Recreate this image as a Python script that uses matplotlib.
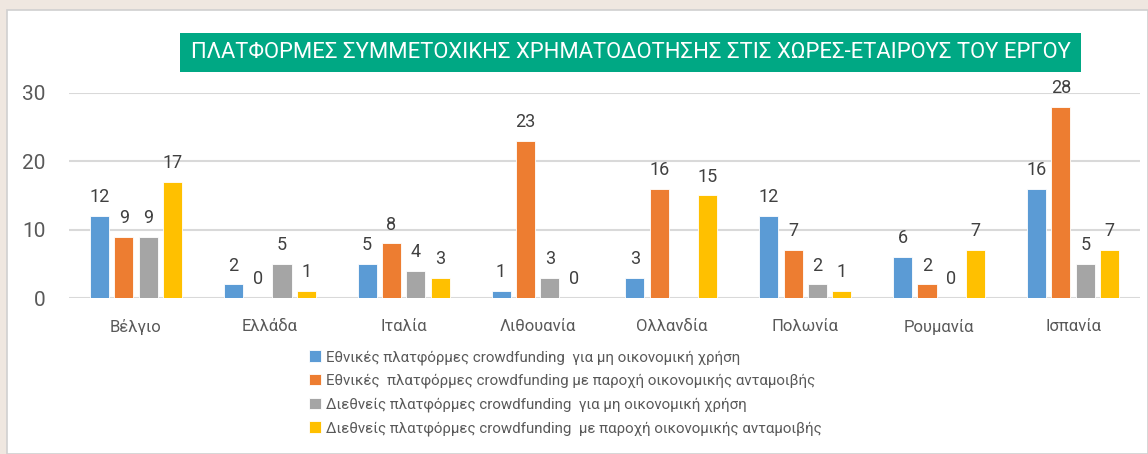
import numpy as np
import matplotlib
matplotlib.use("Agg")
import matplotlib.pyplot as plt
from matplotlib.patches import Rectangle

plt.rcParams['font.family'] = ['Roboto', 'DejaVu Sans']

countries = ["Βέλγιο", "Ελλάδα", "Ιταλία", "Λιθουανία", "Ολλανδία", "Πολωνία", "Ρουμανία", "Ισπανία"]
national_nonfin = [12, 2, 5, 1, 3, 12, 6, 16]
national_reward = [9, 0, 8, 23, 16, 7, 2, 28]
intl_nonfin = [9, 5, 4, 3, np.nan, 2, 0, 5]
intl_reward = [17, 1, 3, 0, 15, 1, 7, 7]
series_labels = [
    "Εθνικές πλατφόρμες crowdfunding  για μη οικονομική χρήση",
    "Εθνικές  πλατφόρμες crowdfunding με παροχή οικονομικής ανταμοιβής",
    "Διεθνείς πλατφόρμες crowdfunding  για μη οικονομική χρήση",
    "Διεθνείς πλατφόρμες crowdfunding  με παροχή οικονομικής ανταμοιβής",
]
colors = ["#5B9BD5", "#ED7D31", "#A5A5A5", "#FFC000"]
title = "ΠΛΑΤΦΟΡΜΕΣ ΣΥΜΜΕΤΟΧΙΚΗΣ ΧΡΗΜΑΤΟΔΟΤΗΣΗΣ ΣΤΙΣ ΧΩΡΕΣ-ΕΤΑΙΡΟΥΣ ΤΟΥ ΕΡΓΟΥ"
yticks = [0, 10, 20, 30]

W, H = 1148, 454
fig = plt.figure(figsize=(W / 100, H / 100), dpi=100)
fig.patch.set_facecolor("#EFE7E0")

# white panel
fig.patches.append(Rectangle((7 / W, 0), 1 - 7 / W, 1 - 10 / H, transform=fig.transFigure,
                             facecolor="white", edgecolor="#D0D0D0", lw=1.2, zorder=-5))

ax = fig.add_axes([69 / W, 1 - 298 / H, (1140 - 69) / W, (298 - 93) / H])
ax.set_facecolor("none")
ax.set_zorder(2)

all_series = [national_nonfin, national_reward, intl_nonfin, intl_reward]
x = np.arange(len(countries))
slot = 0.182
bw = 0.142
text_color = "#404040"
for i, (vals, c, lab) in enumerate(zip(all_series, colors, series_labels)):
    offs = (i - 1.5) * slot
    vals = np.array(vals, dtype=float)
    ax.bar(x + offs, vals, width=bw, color=c, label=lab, edgecolor="white", linewidth=0.6, zorder=3)
    for xi, v in zip(x + offs, vals):
        if np.isnan(v):
            continue
        ax.annotate(f"{int(v)}", (xi, v), xytext=(0, 7), textcoords="offset points",
                    ha="center", va="bottom", fontsize=13, color=text_color, annotation_clip=False)

ax.set_xlim(-0.5, len(countries) - 0.5)
ax.set_ylim(0, 30)
ax.set_yticks(yticks)
ax.yaxis.grid(True, color="#D9D9D9", lw=1.5, zorder=0)
ax.set_axisbelow(True)
for s in ax.spines.values():
    s.set_visible(False)
ax.tick_params(axis="both", length=0, colors="#595959")
ax.tick_params(axis="y", labelsize=15, pad=17)
ax.tick_params(axis="x", labelsize=12, pad=15)
ax.set_xticks(x)
ax.set_xticklabels(countries)

# title box
fig.patches.append(Rectangle((180 / W, 1 - 72 / H), 901 / W, 39 / H, transform=fig.transFigure,
                             facecolor="#00A884", edgecolor="none", zorder=1))
fig.text(630.5 / W, 1 - 53 / H, title, ha="center", va="center", color="white", fontsize=15.8, zorder=2)

handles, labels = ax.get_legend_handles_labels()
leg = fig.legend(handles, labels, loc="upper left", bbox_to_anchor=(309 / W, 1 - 350 / H),
                 frameon=False, fontsize=10.8, handlelength=0.8, handleheight=0.8,
                 handletextpad=0.3, labelspacing=0.6, borderpad=0, borderaxespad=0)
for t in leg.get_texts():
    t.set_color("#595959")

fig.savefig("out.png", dpi=100, facecolor=fig.get_facecolor())
